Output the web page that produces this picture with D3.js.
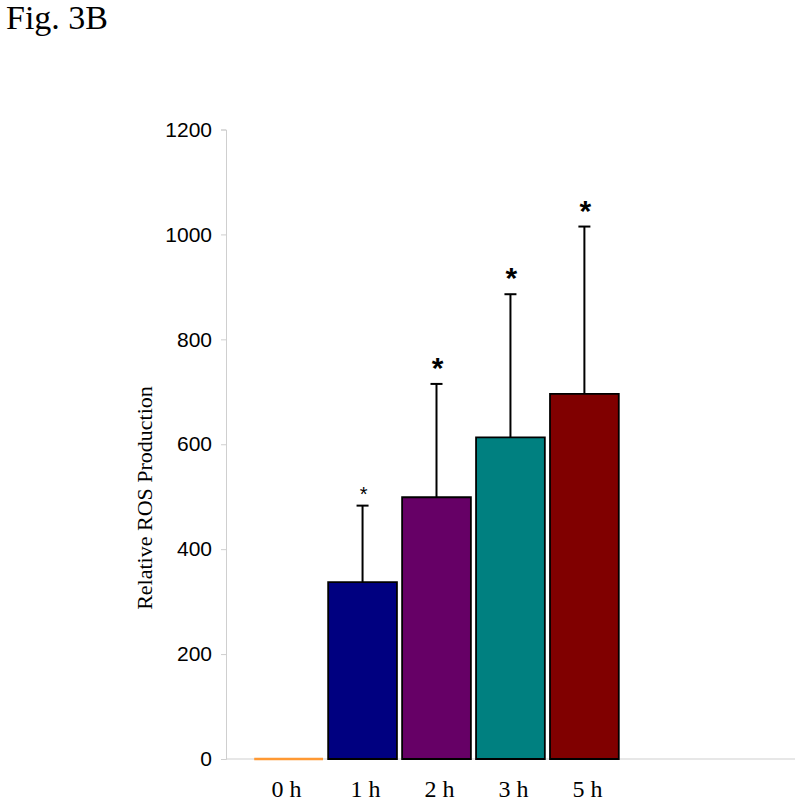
<!DOCTYPE html>
<html>
<head>
<meta charset="utf-8">
<script src="https://cdn.jsdelivr.net/npm/d3@7"></script>
<style>
  body { margin: 0; background: #fff; }
  svg { display: block; }
</style>
</head>
<body>
<svg id="chart" width="800" height="803"></svg>
<script>
// ------------- DATA ------------- //
var times = ["0 h", "1 h", "2 h", "3 h", "5 h"];
var ros = [0, 337, 499, 613, 696];
var sdUp = [0, 146, 216, 273, 319];
var stars = ["", "*", "*", "*", "*"];
var barColors = ["#ff9933", "#000080", "#660066", "#008080", "#800000"];
var yTicks = [0, 200, 400, 600, 800, 1000, 1200];

var svg = d3.select("#chart");

// title
svg.append("text")
  .attr("x", 6).attr("y", 29)
  .attr("font-family", "Liberation Serif, Times New Roman, serif")
  .attr("font-size", 34)
  .text("Fig. 3B");

var y = d3.scaleLinear().domain([0, 1200]).range([759, 129.5]);
var x = d3.scaleBand().domain(times).range([252, 621]).paddingInner(0.07).paddingOuter(0.03);

// y axis
var yAxis = d3.axisLeft(y).tickValues(yTicks).tickFormat(d3.format("d")).tickSize(5).tickPadding(9);
var gy = svg.append("g").attr("transform", "translate(226,0)").call(yAxis);
gy.select(".domain").attr("stroke", "#cfcfcf");
gy.selectAll(".tick line").attr("stroke", "#cfcfcf");
gy.selectAll(".tick text")
  .attr("font-family", "Liberation Sans, Arial, sans-serif")
  .attr("font-size", 21)
  .attr("fill", "#000");

// x baseline
svg.append("line")
  .attr("x1", 226).attr("x2", 795)
  .attr("y1", y(0)).attr("y2", y(0))
  .attr("stroke", "#cfcfcf");

// x labels
svg.selectAll(".xlab").data(times).enter().append("text")
  .attr("class", "xlab")
  .attr("x", function(d, i) { return x(d) + x.bandwidth() / 2 + (i == 0 ? -2 : 3); })
  .attr("y", 797)
  .attr("text-anchor", "middle")
  .attr("font-family", "Liberation Serif, Times New Roman, serif")
  .attr("font-size", 24)
  .text(function(d) { return d; });

// y label
svg.append("text")
  .attr("transform", "translate(152,498) rotate(-90)")
  .attr("text-anchor", "middle")
  .attr("font-family", "Liberation Serif, Times New Roman, serif")
  .attr("font-size", 22)
  .text("Relative ROS Production");

// error bars (upper only)
svg.selectAll(".err").data(times).enter().append("g").attr("class", "err")
  .each(function(d, i) {
    if (sdUp[i] <= 0) return;
    var cx = x(d) + x.bandwidth() / 2;
    var g = d3.select(this);
    g.append("line").attr("x1", cx).attr("x2", cx)
      .attr("y1", y(ros[i])).attr("y2", y(ros[i] + sdUp[i]))
      .attr("stroke", "#000").attr("stroke-width", 2);
    g.append("line").attr("x1", cx - 6).attr("x2", cx + 6)
      .attr("y1", y(ros[i] + sdUp[i])).attr("y2", y(ros[i] + sdUp[i]))
      .attr("stroke", "#000").attr("stroke-width", 2);
  });

// bars (as paths so a zero bar still shows its outline)
svg.selectAll(".bar").data(times).enter().append("path")
  .attr("class", "bar")
  .attr("d", function(d, i) {
    var x0 = x(d), x1 = x(d) + x.bandwidth();
    return "M" + x0 + "," + y(0) + "H" + x1 + "V" + y(ros[i]) + "H" + x0 + "Z";
  })
  .attr("fill", function(d, i) { return barColors[i]; })
  .attr("stroke", function(d, i) { return i == 0 ? barColors[i] : "#000"; })
  .attr("stroke-width", function(d, i) { return i == 0 ? 2.5 : 1.8; });

// significance stars
svg.selectAll(".star").data(times).enter().append("text")
  .attr("class", "star")
  .attr("x", function(d, i) { return x(d) + x.bandwidth() / 2 + 1; })
  .attr("y", function(d, i) { return y(ros[i] + sdUp[i]) - (i == 1 ? 5 : 6); })
  .attr("text-anchor", "middle")
  .attr("font-family", "Liberation Sans, Arial, sans-serif")
  .attr("font-weight", function(d, i) { return i == 1 ? "normal" : "bold"; })
  .attr("font-size", function(d, i) { return i == 1 ? 20 : 30; })
  .text(function(d, i) { return stars[i]; });
</script>
</body>
</html>
